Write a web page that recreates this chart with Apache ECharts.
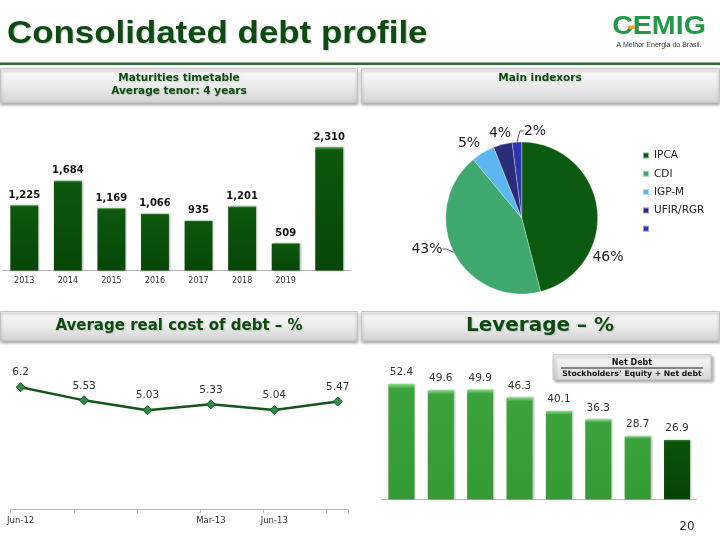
<!DOCTYPE html>
<html>
<head>
<meta charset="utf-8">
<script src="https://cdn.jsdelivr.net/npm/echarts@6/dist/echarts.min.js"></script>
<style>
  html, body { margin: 0; padding: 0; background: #fff; }
  #main { width: 720px; height: 540px; }
</style>
</head>
<body>
<div id="main"></div>
<script>
// data
var maturityYears = ['2013', '2014', '2015', '2016', '2017', '2018', '2019', ''];
var maturityValues = [1225, 1684, 1169, 1066, 935, 1201, 509, 2310];

var indexorNames = ['IPCA', 'CDI', 'IGP-M', 'UFIR/RGR', ' '];
var indexorShares = [46, 43, 5, 4, 2];

var costPeriods = ['Jun-12', '', '', 'Mar-13', 'Jun-13', ''];
var costValues = [6.2, 5.53, 5.03, 5.33, 5.04, 5.47];

var leveragePeriods = ['', '', '', '', '', '', '', ''];
var leverageValues = [52.4, 49.6, 49.9, 46.3, 40.1, 36.3, 28.7, 26.9];

var indexorColors = ['#0c5a10', '#3ea86f', '#5cb6f0', '#2a2d78', '#2c36b4'];
// where the slide puts the pie percentages (label centres) and which get a leader line
var pieLabelSpots = [[608, 257], [427, 249], [469, 143], [500, 133], [535, 131]];
var pieLeaders = [false, true, false, false, true];
var titleGreen = '#0d4c10';

var chart = echarts.init(document.getElementById('main'));

function grad(stops) {
    return new echarts.graphic.LinearGradient(0, 0, 0, 1, stops.map(function (s) {
        return { offset: s[0], color: s[1] };
    }));
}

function headerBox(x, y, w, h) {
    return {
        type: 'rect',
        shape: { x: x, y: y, width: w, height: h },
        style: {
            fill: grad([[0, '#fbfbfb'], [0.5, '#ececec'], [1, '#d3d3d3']]),
            stroke: '#c4c4c4',
            lineWidth: 1,
            shadowBlur: 3,
            shadowOffsetY: 2,
            shadowColor: 'rgba(0,0,0,0.35)'
        }
    };
}

function headerText(text, x, y, size) {
    return {
        type: 'text',
        x: x,
        y: y,
        style: {
            text: text,
            align: 'center',
            verticalAlign: 'middle',
            fontFamily: 'DejaVu Sans',
            fontWeight: 'bold',
            fontSize: size,
            fill: titleGreen,
            textShadowColor: 'rgba(0,0,0,0.15)',
            textShadowOffsetX: 1,
            textShadowOffsetY: 1,
            textShadowBlur: 1
        }
    };
}

var graphics = [
    {
        type: 'text', x: 7, y: 34, scaleX: 1.09,
        style: {
            text: 'Consolidated debt profile', verticalAlign: 'middle',
            fontFamily: 'Liberation Sans', fontWeight: 'bold', fontSize: 32,
            fill: titleGreen,
            textShadowColor: 'rgba(0,0,0,0.2)', textShadowOffsetX: 1, textShadowOffsetY: 1, textShadowBlur: 1
        }
    },
    // logo
    {
        type: 'text', x: 659, y: 27, scaleX: 1.1,
        style: {
            text: 'CEMIG', align: 'center', verticalAlign: 'middle',
            fontFamily: 'Liberation Sans', fontWeight: 'bold', fontSize: 26, fill: '#1f9a48'
        }
    },
    { type: 'rect', shape: { x: 628, y: 25.5, width: 7, height: 3.5, r: 1.5 }, style: { fill: '#f3a41e' } },
    {
        type: 'text', x: 659, y: 45,
        style: {
            text: 'A Melhor Energia do Brasil.', align: 'center', verticalAlign: 'middle',
            fontFamily: 'Liberation Sans', fontSize: 7, fill: '#333'
        }
    },
    { type: 'rect', shape: { x: 0, y: 62.5, width: 720, height: 2.5 }, style: { fill: '#2b6b2b' } },

    headerBox(0.5, 68.5, 357, 34),
    headerBox(361.5, 68.5, 358, 34),
    headerText('Maturities timetable', 179, 78, 10.5),
    headerText('Average tenor: 4 years', 179, 91, 10.5),
    headerText('Main indexors', 540, 78, 10.5),

    headerBox(0.5, 311.5, 357, 29),
    headerBox(361.5, 311.5, 358, 29),
    headerText('Average real cost of debt \u2013 %', 179, 326, 15),
    headerText('Leverage \u2013 %', 540, 326, 20),

    // net debt formula box
    {
        type: 'rect',
        shape: { x: 553, y: 354.5, width: 158, height: 25 },
        style: {
            fill: grad([[0, '#fafafa'], [1, '#d8d8d8']]),
            stroke: '#c8c8c8', lineWidth: 1,
            shadowBlur: 3, shadowOffsetX: 2, shadowOffsetY: 2, shadowColor: 'rgba(0,0,0,0.35)'
        }
    },
    {
        type: 'text', x: 632, y: 362.5,
        style: { text: 'Net Debt', align: 'center', verticalAlign: 'middle', fontFamily: 'DejaVu Sans', fontWeight: 'bold', fontSize: 8, fill: '#111' }
    },
    { type: 'line', shape: { x1: 561, y1: 368, x2: 703, y2: 368 }, style: { stroke: '#222', lineWidth: 1 } },
    {
        type: 'text', x: 632, y: 374,
        style: { text: 'Stockholders\u2019 Equity + Net debt', align: 'center', verticalAlign: 'middle', fontFamily: 'DejaVu Sans', fontWeight: 'bold', fontSize: 7.7, fill: '#111' }
    },
    {
        type: 'text', x: 687, y: 527,
        style: { text: '20', align: 'center', verticalAlign: 'middle', fontFamily: 'DejaVu Sans', fontSize: 12, fill: '#333' }
    }
];

var axisGray = { lineStyle: { color: '#b8b8b8', width: 1 } };

var option = {
    animation: false,
    textStyle: { fontFamily: 'DejaVu Sans' },
    graphic: graphics,
    grid: [
        { left: 2.5, right: 369, top: 137.2, bottom: 269.5 },
        { left: 20.7, right: 382.3, top: 371.4, bottom: 30.7 },
        { left: 10.7, right: 372, top: 371.4, bottom: 30.7 },
        { left: 381.7, right: 23.3, top: 367.3, bottom: 40.7 }
    ],
    xAxis: [
        {
            type: 'category', gridIndex: 0, data: maturityYears,
            axisLine: axisGray, axisTick: { length: 4, lineStyle: { color: '#b8b8b8' } },
            axisLabel: { fontSize: 8, color: '#333', margin: 6.5 }
        },
        {
            type: 'category', gridIndex: 1, data: costPeriods, boundaryGap: false,
            axisLine: { show: false }, axisTick: { show: false },
            axisLabel: { fontSize: 8.5, color: '#333', margin: 7, interval: 0 }
        },
        {
            type: 'value', gridIndex: 2, min: 0, max: 5.34, interval: 1,
            axisLine: { show: true, lineStyle: { color: '#b8b8b8' } },
            axisTick: { show: true, length: 4, lineStyle: { color: '#b8b8b8' } },
            axisLabel: { show: false }, splitLine: { show: false }
        },
        {
            type: 'category', gridIndex: 3, data: leveragePeriods,
            axisLine: axisGray, axisTick: { length: 4, lineStyle: { color: '#b8b8b8' } },
            axisLabel: { show: false }
        }
    ],
    yAxis: [
        { type: 'value', gridIndex: 0, min: 0, max: 2500, show: false },
        { type: 'value', gridIndex: 1, min: 0, max: 7, show: false },
        { type: 'value', gridIndex: 2, min: 0, max: 1, show: false },
        { type: 'value', gridIndex: 3, min: 0, max: 60, show: false }
    ],
    legend: {
        orient: 'vertical', left: 642, top: 150, padding: 0,
        itemWidth: 6, itemHeight: 6, itemGap: 7.3,
        icon: 'rect',
        textStyle: { fontSize: 10.5, color: '#222' },
        data: indexorNames
    },
    series: [
        {
            type: 'bar', xAxisIndex: 0, yAxisIndex: 0,
            data: maturityValues, barWidth: '64%',
            itemStyle: {
                color: grad([[0, '#4a9a4a'], [0.025, '#0d580d'], [1, '#074607']]),
                shadowBlur: 2, shadowOffsetX: 1, shadowColor: 'rgba(0,0,0,0.3)'
            },
            label: {
                show: true, position: 'top', distance: 5,
                fontSize: 10, fontWeight: 'bold', color: '#111',
                formatter: function (p) { return p.value.toLocaleString('en-US'); }
            }
        },
        {
            type: 'line', xAxisIndex: 1, yAxisIndex: 1,
            data: costValues,
            lineStyle: { color: '#14561a', width: 2.5 },
            symbol: 'diamond', symbolSize: 9,
            itemStyle: { color: '#2f8b4c', borderColor: '#145214', borderWidth: 1 },
            label: { show: true, position: 'top', distance: 4, fontSize: 10.5, color: '#333' }
        },
        {
            type: 'pie',
            center: [521.7, 218], radius: 76,
            data: indexorNames.map(function (n, i) {
                return {
                    name: n, value: indexorShares[i],
                    itemStyle: { color: indexorColors[i] },
                    labelLine: { show: pieLeaders[i] }
                };
            }),
            itemStyle: { borderColor: 'rgba(255,255,255,0.5)', borderWidth: 0.6 },
            label: { show: true, formatter: '{c}%', fontSize: 14, color: '#222' },
            labelLine: { length: 4, length2: 4, lineStyle: { color: '#555', width: 1 } },
            labelLayout: function (p) {
                var spot = pieLabelSpots[p.dataIndex];
                return { x: spot[0], y: spot[1], align: 'center', verticalAlign: 'middle' };
            }
        },
        {
            type: 'bar', xAxisIndex: 3, yAxisIndex: 3,
            data: leverageValues, barWidth: '66%',
            itemStyle: {
                color: function (p) {
                    if (p.dataIndex === leverageValues.length - 1) {
                        return grad([[0, '#2f7a2f'], [0.04, '#0b520b'], [1, '#064306']]);
                    }
                    return grad([[0, '#86dc86'], [0.04, '#3ca33c'], [1, '#349a34']]);
                },
                shadowBlur: 2, shadowOffsetX: 1, shadowColor: 'rgba(0,0,0,0.3)'
            },
            label: { show: true, position: 'top', distance: 6, fontSize: 10.5, color: '#333' }
        }
    ]
};

chart.setOption(option);
</script>
</body>
</html>
